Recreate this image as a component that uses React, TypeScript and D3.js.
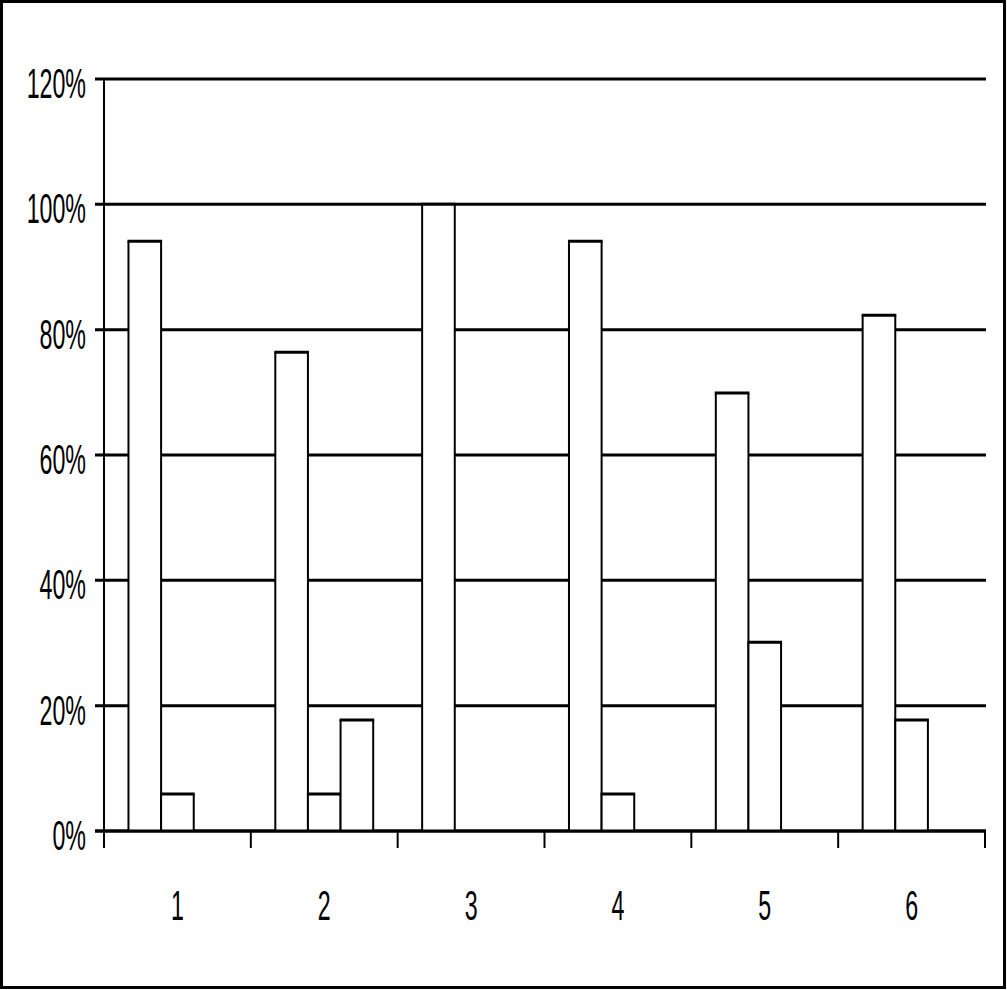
import React from "react";
import * as d3 from "d3";

const categories = ["1", "2", "3", "4", "5", "6"];
const seriesNames = ["A", "B", "C"];
const seriesA = [94.1, 76.4, 100, 94.1, 69.9, 82.3];
const seriesB = [5.9, 5.9, 0, 5.9, 30.1, 17.7];
const seriesC = [0, 17.7, 0, 0, 0, 0];
const yTicks = [0, 20, 40, 60, 80, 100, 120];

const W = 1007;
const H = 990;
const left = 104;
const right = 985;
const top = 79;
const bottom = 831;

export default function App() {
  const series = [seriesA, seriesB, seriesC];
  const x0 = d3.scaleBand<string>().domain(categories).range([left, right]).paddingInner(0).paddingOuter(0);
  const bw = x0.bandwidth();
  const barW = bw / 4.5;
  const gap = barW * 1.5;
  const x1 = d3.scaleBand<string>().domain(seriesNames).range([gap / 2, bw - gap / 2]);
  const y = d3.scaleLinear().domain([0, 120]).range([bottom, top]);
  const font = "'Liberation Sans', Arial, sans-serif";
  const sx = 0.54;

  const bars: JSX.Element[] = [];
  categories.forEach((c, ci) => {
    series.forEach((s, si) => {
      const v = s[ci];
      if (v <= 0) return;
      const bx = (x0(c) as number) + (x1(seriesNames[si]) as number);
      const w = x1.bandwidth();
      const yt = y(v);
      bars.push(
        <g key={`${ci}-${si}`}>
          <rect x={bx} y={yt} width={w} height={bottom - yt} fill="#fff" />
          <line x1={bx} x2={bx} y1={yt} y2={bottom} stroke="#000" strokeWidth={2} />
          <line x1={bx + w} x2={bx + w} y1={yt} y2={bottom} stroke="#000" strokeWidth={2} />
          <line x1={bx - 1} x2={bx + w + 1} y1={yt} y2={yt} stroke="#000" strokeWidth={3} />
        </g>
      );
    });
  });

  return (
    <svg width={W} height={H} style={{ position: "absolute", left: 0, top: 0, display: "block" }}>
      <rect x={0} y={0} width={W} height={H} fill="#fff" />
      <rect x={1.5} y={1.5} width={1003} height={986} fill="none" stroke="#000" strokeWidth={3} />
      {yTicks.map((t) => (
        <line key={t} x1={left - 9} x2={right + 1} y1={y(t)} y2={y(t)} stroke="#000" strokeWidth={3} />
      ))}
      <line x1={left} x2={left} y1={top} y2={bottom + 17} stroke="#000" strokeWidth={2} />
      {d3.range(categories.length + 1).map((i) => {
        const xx = left + i * bw;
        return <line key={i} x1={xx} x2={xx} y1={bottom} y2={bottom + 17} stroke="#000" strokeWidth={2} />;
      })}
      {bars}
      <line x1={left - 9} x2={right + 1} y1={bottom} y2={bottom} stroke="#000" strokeWidth={3} />
      {yTicks.map((t) => (
        <text
          key={t}
          transform={`translate(86,${y(t) + 19}) scale(${sx},1)`}
          textAnchor="end"
          fontFamily={font}
          fontSize={43}
          fill="#000"
        >
          {`${t}%`}
        </text>
      ))}
      {categories.map((c) => (
        <text
          key={c}
          transform={`translate(${(x0(c) as number) + bw / 2},920) scale(${sx},1)`}
          textAnchor="middle"
          fontFamily={font}
          fontSize={43}
          fill="#000"
        >
          {c}
        </text>
      ))}
    </svg>
  );
}
